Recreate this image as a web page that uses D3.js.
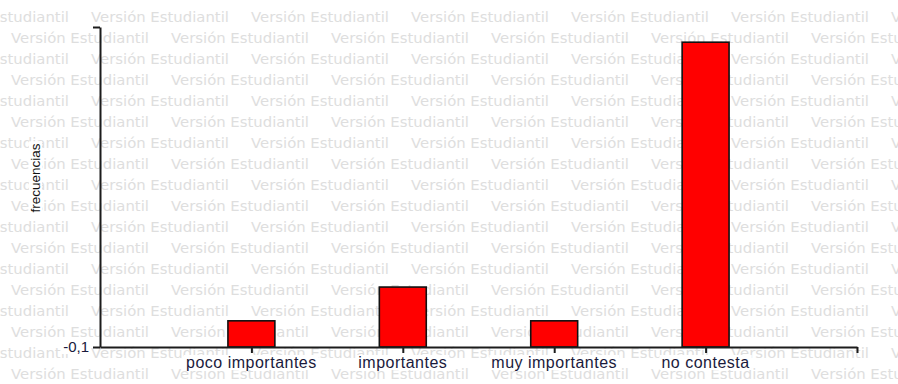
<!DOCTYPE html>
<html>
<head>
<meta charset="utf-8">
<script src="https://cdn.jsdelivr.net/npm/d3@7"></script>
<style>
  html, body { margin: 0; padding: 0; background: #fff; }
  svg { display: block; }
</style>
</head>
<body>
<svg id="chart" width="898" height="384"></svg>
<script>
// Frequency of answers per category
const categories = ["poco importantes", "importantes", "muy importantes", "no contesta"];
const frecuencias = [3, 7, 3, 36];
const yDomain = [-0.1, 37.8];
const yTickValues = [-0.1, 37.8];
const yTickLabels = ["-0,1", ""];
const yTitle = "frecuencias";
const watermarkText = "Versión Estudiantil";

const W = 898, H = 384;
const plot = { left: 100, right: 857, top: 27, bottom: 347 };
const svg = d3.select("#chart");

// Tiled background watermark
const wm = svg.append("g").attr("class", "watermark");
const probe = wm.append("text")
  .attr("font-family", "DejaVu Sans").attr("font-size", 14).text(watermarkText);
const natural = probe.node().getComputedTextLength();
probe.remove();
const wmSize = 14 * 138 / natural;
for (let r = 0; r < 19; r++) {
  const baseY = 22 + 21 * r;
  const start = r % 2 === 0 ? -69 : 11;
  for (let x = start; x < W; x += 160) {
    wm.append("text")
      .attr("x", x).attr("y", baseY)
      .attr("font-family", "DejaVu Sans")
      .attr("font-size", wmSize)
      .attr("fill", "#dedede")
      .text(watermarkText);
  }
}

// Scales: categories sit at 1..n on a 0..n+1 axis
const x = d3.scaleLinear().domain([0, categories.length + 1]).range([plot.left, plot.right]);
const y = d3.scaleLinear().domain(yDomain).range([plot.bottom, plot.top]);
const barW = (x(1) - x(0)) * 0.31;

// Bars
svg.append("g").selectAll("rect")
  .data(frecuencias)
  .join("rect")
  .attr("x", (d, i) => x(i + 1) - barW / 2)
  .attr("y", d => y(d))
  .attr("width", barW)
  .attr("height", d => y(yDomain[0]) - y(d))
  .attr("fill", "#ff0000")
  .attr("stroke", "#111")
  .attr("stroke-width", 1.6);

// Axes
const axisColor = "#1c1c1c";
const xAxis = d3.axisBottom(x)
  .tickValues([...categories.map((c, i) => i + 1), categories.length + 1])
  .tickFormat(() => "")
  .tickSize(6)
  .tickSizeOuter(0);
const gx = svg.append("g").attr("transform", `translate(0,${plot.bottom})`).call(xAxis);
gx.select(".domain").attr("stroke", axisColor).attr("stroke-width", 2);
gx.selectAll(".tick line").attr("stroke", axisColor).attr("stroke-width", 2);

const yAxis = d3.axisLeft(y)
  .tickValues(yTickValues)
  .tickFormat(() => "")
  .tickSize(7)
  .tickSizeOuter(0);
const gy = svg.append("g").attr("transform", `translate(${plot.left},0)`).call(yAxis);
gy.select(".domain").attr("stroke", axisColor).attr("stroke-width", 2);
gy.selectAll(".tick line").attr("stroke", axisColor).attr("stroke-width", 2);

const labelColor = "#1a1a3c";

// Text with an opaque white backing
function label(g, txt, attrs) {
  const grp = g.append("g");
  const bg = grp.append("rect").attr("fill", "#fff");
  const t = grp.append("text").text(txt);
  Object.entries(attrs).forEach(([k, v]) => t.attr(k, v));
  const b = t.node().getBBox();
  bg.attr("x", b.x - 2).attr("y", b.y + 1).attr("width", b.width + 4).attr("height", b.height - 2);
  return grp;
}

// Category labels
const labels = svg.append("g");
categories.forEach((c, i) => {
  label(labels, c, {
    x: x(i + 1), y: 368,
    "text-anchor": "middle",
    "font-family": "Liberation Sans, Arial, sans-serif",
    "font-size": 16,
    "letter-spacing": 0.5,
    fill: labelColor
  });
});

// Y tick labels
yTickValues.forEach((v, i) => {
  if (!yTickLabels[i]) return;
  label(labels, yTickLabels[i], {
    x: 89, y: y(v) + 5,
    "text-anchor": "end",
    "font-family": "Liberation Sans, Arial, sans-serif",
    "font-size": 15,
    fill: labelColor
  });
});

// Y title
const titleG = label(labels, yTitle, {
  x: 0, y: 0,
  "text-anchor": "middle",
  "font-family": "Liberation Sans, Arial, sans-serif",
  "font-size": 13.5,
  fill: "#111"
});
titleG.attr("transform", "translate(40,178) rotate(-90)");
</script>
</body>
</html>
